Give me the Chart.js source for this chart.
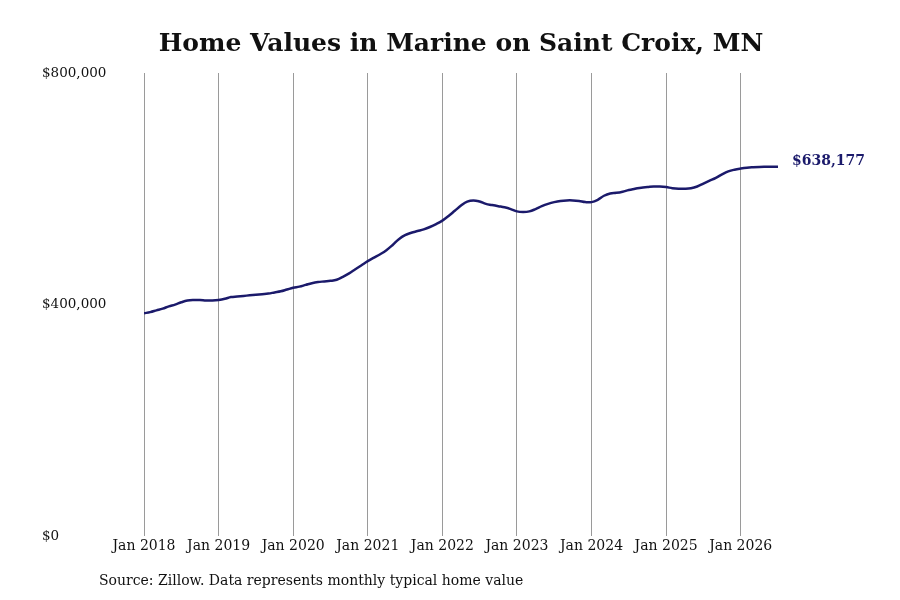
<!DOCTYPE html>
<html>
<head>
<meta charset="utf-8">
<script src="https://cdn.jsdelivr.net/npm/chart.js@4.4.1/dist/chart.umd.min.js"></script>
<style>
  html, body { margin: 0; padding: 0; background: #fff; }
  #wrap { width: 900px; height: 600px; }
</style>
</head>
<body>
<div id="wrap"><canvas id="homeValuesChart"></canvas></div>
<script>
// monthly typical home value, Jan 2018 .. Jul 2026
const tickLabels = ['Jan 2018', 'Jan 2019', 'Jan 2020', 'Jan 2021', 'Jan 2022',
                    'Jan 2023', 'Jan 2024', 'Jan 2025', 'Jan 2026'];
const yTicks = [0, 400000, 800000];
const homeValues = [
    385000, 387000, 390000, 393000, 397000, 400000, 404000, 407000, 408000, 408000, 407000, 407000, // 2018
    408000, 410000, 413000, 414000, 415000, 416000, 417000, 418000, 419000, 421000, 423000, 426000, // 2019
    429000, 431000, 434000, 437000, 439000, 440000, 441000, 443000, 448000, 454000, 461000, 468000, // 2020
    475000, 481000, 487000, 494000, 503000, 513000, 520000, 524000, 527000, 530000, 534000, 539000, // 2021
    545000, 553000, 562000, 571000, 578000, 580000, 578000, 574000, 572000, 570000, 568000, 565000, // 2022
    561000, 560000, 561000, 565000, 570000, 574000, 577000, 579000, 580000, 580000, 579000, 577000, // 2023
    577000, 581000, 588000, 592000, 593000, 595000, 598000, 600000, 602000, 603000, 604000, 604000, // 2024
    603000, 601000, 600000, 600000, 601000, 604000, 609000, 614000, 619000, 625000, 630000, 633000, // 2025
    635000, 636500, 637300, 637800, 638000, 638100, 638177                                          // 2026
];
const lastLabel = '$638,177';

document.addEventListener('DOMContentLoaded', () => {
    const ctx = document.getElementById('homeValuesChart');
    const serif = "'DejaVu Serif', serif";
    const navy = '#1b1a6b';

    new Chart(ctx, {
        type: 'line',
        data: {
            datasets: [{
                label: 'Home value',
                data: homeValues.map((v, i) => ({ x: i, y: v })),
                borderColor: navy,
                borderWidth: 2.5,
                pointRadius: 0,
                tension: 0.4,
                fill: false
            }]
        },
        options: {
            responsive: true,
            maintainAspectRatio: false,
            animation: false,
            layout: { padding: { left: 42, right: 122, top: 73, bottom: 43 } },
            plugins: {
                legend: { display: false },
                tooltip: { enabled: false }
            },
            scales: {
                x: {
                    type: 'linear',
                    min: 0,
                    max: homeValues.length - 1,
                    border: { display: false },
                    grid: { color: '#9a9a9a', lineWidth: 1, drawTicks: false },
                    ticks: {
                        stepSize: 12,
                        includeBounds: false,
                        autoSkip: false,
                        maxRotation: 0,
                        padding: 2,
                        color: '#111',
                        font: { family: serif, size: 14 },
                        callback: (v) => tickLabels[v / 12]
                    }
                },
                y: {
                    min: yTicks[0],
                    max: yTicks[yTicks.length - 1],
                    border: { display: false },
                    grid: { display: false, drawTicks: false },
                    afterBuildTicks: (axis) => { axis.ticks = yTicks.map(v => ({ value: v })); },
                    afterFit: (axis) => { axis.width = 102; },
                    ticks: {
                        crossAlign: 'far',
                        padding: 0,
                        color: '#111',
                        font: { family: serif, size: 13.5 },
                        callback: (v) => '$' + v.toLocaleString('en-US')
                    }
                }
            }
        },
        plugins: [{
            id: 'texts',
            afterDraw(chart) {
                const { ctx } = chart;
                const meta = chart.getDatasetMeta(0);
                const last = meta.data[meta.data.length - 1];
                ctx.save();
                // title
                ctx.fillStyle = '#111';
                ctx.font = "bold 25px 'DejaVu Serif', serif";
                ctx.textAlign = 'center';
                ctx.textBaseline = 'middle';
                ctx.fillText('Home Values in Marine on Saint Croix, MN', 461, 44);
                // source note
                ctx.font = "14px 'DejaVu Serif', serif";
                ctx.textAlign = 'left';
                ctx.fillText('Source: Zillow. Data represents monthly typical home value', 99, 581);
                // last value label
                ctx.fillStyle = navy;
                ctx.font = "bold 14px 'DejaVu Serif', serif";
                ctx.fillText(lastLabel, last.x + 14, last.y - 5);
                ctx.restore();
            }
        }]
    });
});
</script>
</body>
</html>
